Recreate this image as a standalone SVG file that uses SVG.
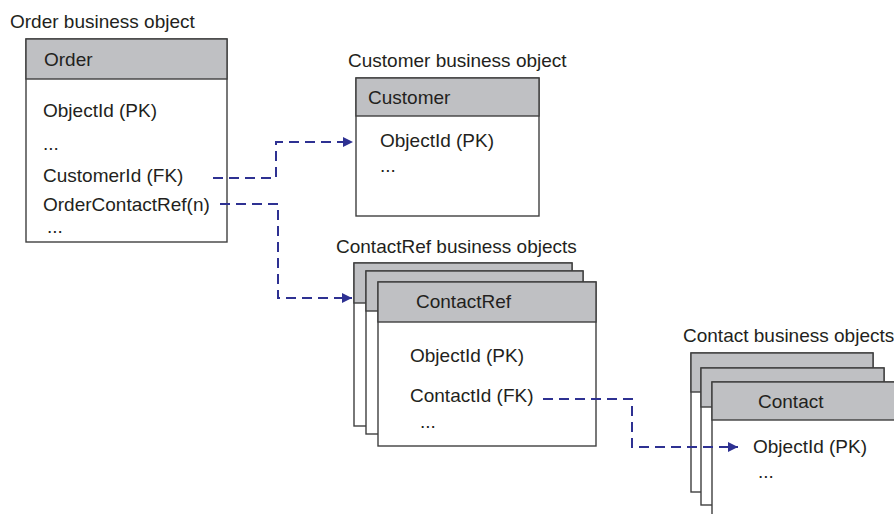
<svg xmlns="http://www.w3.org/2000/svg" width="894" height="514" viewBox="0 0 894 514">
  <style>
    .box { fill: #ffffff; stroke: #3f3f3f; stroke-width: 1.4; }
    .hdr { fill: #bfc0c3; stroke: #3f3f3f; stroke-width: 1.4; }
    .t { font-family: "Liberation Sans", Arial, sans-serif; font-size: 19px; fill: #231f20; }
    .link { fill: none; stroke: #2e3192; stroke-width: 2; stroke-dasharray: 10 6; }
  </style>
  <defs>
    <marker id="arrow" viewBox="0 0 10 10" refX="10" refY="5" markerWidth="10" markerHeight="10" markerUnits="userSpaceOnUse" orient="auto">
      <path d="M0,0 L10,5 L0,10 Z" fill="#2e3192"/>
    </marker>
  </defs>

  <rect width="894" height="514" fill="#ffffff"/>

  <!-- Order -->
  <g id="order">
    <text class="t" x="10" y="28">Order business object</text>
    <rect class="box" x="26" y="39" width="201" height="203"/>
    <rect class="hdr" x="26" y="39" width="201" height="40"/>
    <text class="t" x="44" y="66">Order</text>
    <text class="t" x="43" y="117">ObjectId (PK)</text>
    <text class="t" x="43" y="150">...</text>
    <text class="t" x="43" y="182">CustomerId (FK)</text>
    <text class="t" x="43" y="211">OrderContactRef(n)</text>
    <text class="t" x="47" y="233">...</text>
  </g>

  <!-- Customer -->
  <g id="customer">
    <text class="t" x="348" y="67">Customer business object</text>
    <rect class="box" x="356" y="78" width="183" height="138"/>
    <rect class="hdr" x="356" y="78" width="183" height="38"/>
    <text class="t" x="368" y="104">Customer</text>
    <text class="t" x="380" y="147">ObjectId (PK)</text>
    <text class="t" x="380" y="172">...</text>
  </g>

  <!-- ContactRef stack -->
  <g id="contactref">
    <text class="t" x="336" y="253">ContactRef business objects</text>
    <rect class="box" x="354" y="263" width="218" height="163"/>
    <rect class="hdr" x="354" y="263" width="218" height="40"/>
    <rect class="box" x="366" y="271" width="217" height="163"/>
    <rect class="hdr" x="366" y="271" width="217" height="40"/>
    <rect class="box" x="378" y="282" width="218" height="164"/>
    <rect class="hdr" x="378" y="282" width="218" height="40"/>
    <text class="t" x="416" y="308">ContactRef</text>
    <text class="t" x="410" y="362">ObjectId (PK)</text>
    <text class="t" x="410" y="402">ContactId (FK)</text>
    <text class="t" x="420" y="428">...</text>
  </g>

  <!-- Contact stack -->
  <g id="contact">
    <text class="t" x="683" y="342">Contact business objects</text>
    <rect class="box" x="691" y="353" width="182" height="139"/>
    <rect class="hdr" x="691" y="353" width="182" height="39"/>
    <rect class="box" x="701" y="368" width="183" height="137"/>
    <rect class="hdr" x="701" y="368" width="183" height="39"/>
    <rect class="box" x="712" y="382" width="190" height="140"/>
    <rect class="hdr" x="712" y="382" width="190" height="38"/>
    <text class="t" x="758" y="408">Contact</text>
    <text class="t" x="753" y="453">ObjectId (PK)</text>
    <text class="t" x="758" y="478">...</text>
  </g>

  <!-- Connectors -->
  <g id="connectors">
    <path class="link" d="M213,178 H276 V142 H353" marker-end="url(#arrow)"/>
    <path class="link" d="M220,204 H278 V298 H352" marker-end="url(#arrow)"/>
    <path class="link" d="M543,399 H632 V447 H738" marker-end="url(#arrow)"/>
  </g>
</svg>
